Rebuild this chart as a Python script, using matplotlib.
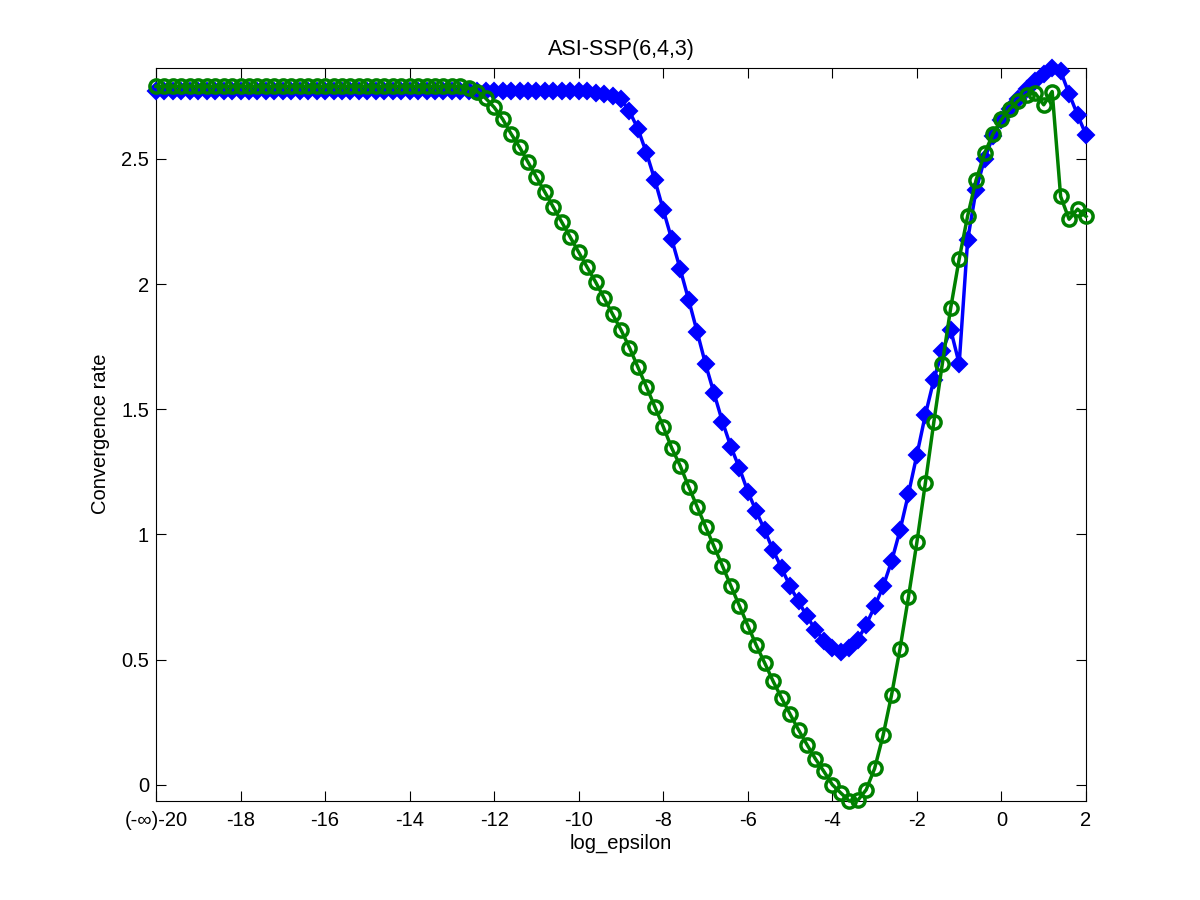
import numpy as np
import matplotlib
matplotlib.use("Agg")
import matplotlib.pyplot as plt

plt.rcParams['font.family'] = ['Liberation Sans', 'DejaVu Sans']

# x grid: log_epsilon from -20 to 2 in steps of 0.2
log_eps = np.round(np.linspace(-20, 2, 111), 1)

blue_rate = [
    2.77, 2.77, 2.77, 2.77, 2.77, 2.77, 2.77, 2.77, 2.77, 2.77,
    2.77, 2.77, 2.77, 2.77, 2.77, 2.77, 2.77, 2.77, 2.77, 2.77,
    2.77, 2.77, 2.77, 2.77, 2.77, 2.77, 2.77, 2.77, 2.77, 2.77,
    2.77, 2.77, 2.77, 2.77, 2.77, 2.77, 2.77, 2.77, 2.77, 2.77,
    2.77, 2.77, 2.77, 2.77, 2.77, 2.77, 2.77, 2.77, 2.77, 2.77,
    2.77, 2.77,
    2.765, 2.76, 2.752, 2.74,
    2.69, 2.62, 2.525, 2.416, 2.296, 2.179, 2.06, 1.937, 1.81, 1.68,
    1.564, 1.45, 1.35, 1.265, 1.171, 1.092, 1.016, 0.936, 0.865, 0.792,
    0.732, 0.672, 0.619, 0.576, 0.546, 0.532, 0.546, 0.579, 0.639, 0.712,
    0.792, 0.892, 1.016, 1.162, 1.318, 1.478, 1.617, 1.734, 1.817, 1.682,
    2.176, 2.376, 2.50, 2.59, 2.656, 2.70, 2.74, 2.78, 2.81, 2.84,
    2.865, 2.85, 2.76, 2.676, 2.596,
]

green_rate = [
    2.79, 2.79, 2.79, 2.79, 2.79, 2.79, 2.79, 2.79, 2.79, 2.79,
    2.79, 2.79, 2.79, 2.79, 2.79, 2.79, 2.79, 2.79, 2.79, 2.79,
    2.79, 2.79, 2.79, 2.79, 2.79, 2.79, 2.79, 2.79, 2.79, 2.79,
    2.79, 2.79, 2.79, 2.79, 2.79, 2.79, 2.79,
    2.782, 2.769, 2.742,
    2.706, 2.659, 2.60, 2.547, 2.487, 2.427, 2.367, 2.307, 2.247, 2.187,
    2.127, 2.067, 2.008, 1.944, 1.88, 1.817, 1.746, 1.668, 1.59, 1.51,
    1.43, 1.345, 1.274, 1.191, 1.111, 1.031, 0.952, 0.874, 0.794, 0.715,
    0.636, 0.557, 0.486, 0.413, 0.346, 0.282, 0.219, 0.16, 0.103, 0.053,
    0.0, -0.033, -0.065, -0.063, -0.02, 0.065, 0.197, 0.358, 0.543, 0.75,
    0.969, 1.205, 1.448, 1.68, 1.905, 2.10, 2.272, 2.416, 2.522, 2.60,
    2.658, 2.70, 2.733, 2.756, 2.762, 2.716, 2.769, 2.35, 2.259, 2.299,
    2.27,
]

x_ticks = [-20, -18, -16, -14, -12, -10, -8, -6, -4, -2, 0, 2]
x_ticklabels = ['(-\u221e)-20', '-18', '-16', '-14', '-12', '-10', '-8', '-6', '-4', '-2', '0', '2']
y_ticks = [0, 0.5, 1, 1.5, 2, 2.5]
y_ticklabels = ['0', '0.5', '1', '1.5', '2', '2.5']

fig = plt.figure(figsize=(12, 9), dpi=100)
ax = fig.add_axes([0.13, 0.11, 0.775, 0.815])

ax.plot(log_eps, blue_rate, color=(0, 0, 1), linewidth=2.5, marker='D',
        markersize=8.5, markerfacecolor=(0, 0, 1), markeredgecolor=(0, 0, 1),
        markeredgewidth=1.5, clip_on=False, zorder=3)
ax.plot(log_eps, green_rate, color=(0, 0.5, 0), linewidth=2.5, marker='o',
        markersize=9.5, markerfacecolor='none', markeredgecolor=(0, 0.5, 0),
        markeredgewidth=2.5, clip_on=False, zorder=4)

ymin = min(min(blue_rate), min(green_rate))
ymax = max(max(blue_rate), max(green_rate))
ax.set_xlim(-20, 2)
ax.set_ylim(ymin, ymax)

ax.set_xticks(x_ticks)
ax.set_xticklabels(x_ticklabels)
ax.set_yticks(y_ticks)
ax.set_yticklabels(y_ticklabels)
ax.tick_params(direction='in', length=7.5, width=0.8, top=True, right=True,
               labelsize=14.5, pad=7, colors='black')
ax.tick_params(axis='y', pad=5)
for sp in ax.spines.values():
    sp.set_linewidth(0.8)

ax.set_xlabel('log_epsilon', fontsize=14.5, labelpad=3)
ax.set_ylabel('Convergence rate', fontsize=14.5, labelpad=8)
ax.set_title('ASI-SSP(6,4,3)', fontsize=15.5, pad=9)

fig.savefig('out.png', dpi=100, facecolor='white')
